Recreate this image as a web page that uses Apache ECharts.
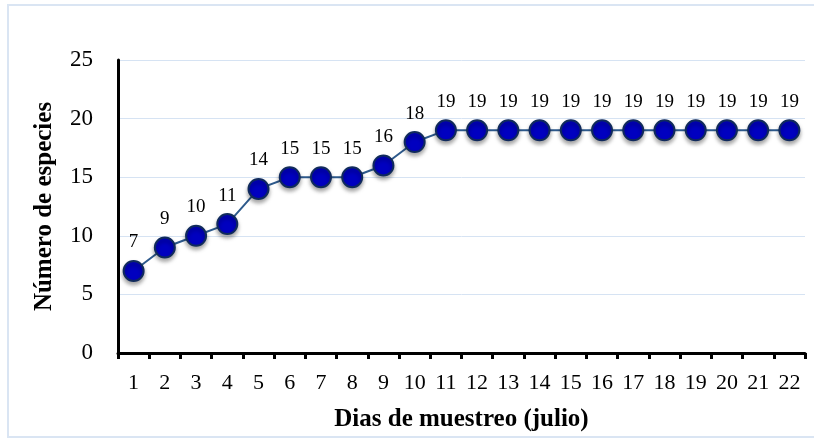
<!DOCTYPE html>
<html><head><meta charset="utf-8">
<script src="https://cdn.jsdelivr.net/npm/echarts@6/dist/echarts.min.js"></script>
<style>html,body{margin:0;padding:0;background:#fff}
#wrap{position:absolute;left:7px;top:4px;width:820px;height:434px;border:2px solid #dae5f3;box-sizing:border-box}
#c{position:absolute;left:0;top:0;width:814px;height:445px}</style>
</head><body><div id="wrap"></div><div id="c"></div>
<script>
var categories = ['1','2','3','4','5','6','7','8','9','10','11','12','13','14','15','16','17','18','19','20','21','22'];
var species = [7,9,10,11,14,15,15,15,16,18,19,19,19,19,19,19,19,19,19,19,19,19];
var yTicks = {min:0, max:25, interval:5};
var chart = echarts.init(document.getElementById('c'));
var serif = 'Liberation Serif, Times New Roman, serif';
chart.setOption({
  animation:false,
  grid:{left:118, right:9, top:60, bottom:92, containLabel:false},
  xAxis:{type:'category', data:categories, boundaryGap:true,
    name:'Dias de muestreo (julio)', nameLocation:'middle', nameGap:54,
    nameTextStyle:{fontFamily:serif, fontSize:25, fontWeight:'bold', color:'#000'},
    axisLine:{lineStyle:{color:'#000', width:3}},
    axisTick:{show:true, alignWithLabel:false, length:6, lineStyle:{color:'#000', width:3}},
    axisLabel:{fontFamily:serif, fontSize:22, color:'#000', margin:19, interval:0},
    splitLine:{show:false}},
  yAxis:{type:'value', min:yTicks.min, max:yTicks.max, interval:yTicks.interval,
    name:'Número de especies', nameLocation:'middle', nameGap:61,
    nameTextStyle:{fontFamily:serif, fontSize:25, fontWeight:'bold', color:'#000'},
    axisLine:{show:true, lineStyle:{color:'#000', width:3}},
    axisTick:{show:false},
    axisLabel:{fontFamily:serif, fontSize:23, color:'#000', margin:25},
    splitLine:{lineStyle:{color:'#d6e3f3', width:1}}},
  series:[{type:'line', data:species, symbol:'circle', symbolSize:20,
    lineStyle:{color:'#2e5a8c', width:2},
    itemStyle:{color:'#0000c0', borderColor:'#102a5c', borderWidth:2,
      shadowColor:'rgba(0,0,0,0.35)', shadowBlur:4, shadowOffsetY:3},
    label:{show:true, position:'top', distance:8, fontFamily:serif, fontSize:19, color:'#000'}}]
});
</script></body></html>
